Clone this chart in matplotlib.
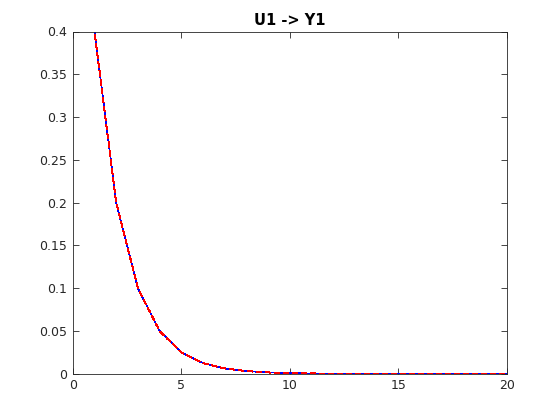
import matplotlib
matplotlib.use('Agg')
import matplotlib.pyplot as plt

# resposta ao impulso U1 -> Y1 (duas curvas sobrepostas)
k = [0, 1, 2, 3, 4, 5, 6, 7, 8, 9, 10, 11, 12, 13, 14, 15, 16, 17, 18, 19, 20]
y_blue = [0.8, 0.4, 0.2, 0.1, 0.05, 0.025, 0.0125, 0.00625, 0.003125, 0.0015625,
          0.00078125, 0.00039, 0.000195, 0.0000977, 0.0000488, 0.0000244,
          0.0000122, 0.0000061, 0.0000031, 0.0000015, 0.0000008]
y_red = list(y_blue)

xticks = [0, 5, 10, 15, 20]
yticks = [0, 0.05, 0.1, 0.15, 0.2, 0.25, 0.3, 0.35, 0.4]
ylabels = ['0', '0.05', '0.1', '0.15', '0.2', '0.25', '0.3', '0.35', '0.4']

fig = plt.figure(figsize=(5.6, 4.2), dpi=100)
ax = fig.add_axes([0.13, 0.11, 0.775, 0.815])
ax.plot(k, y_blue, color='#0000ff', lw=0.5, antialiased=False)
ax.plot(k, y_red, color='#ff0000', lw=0.5, dashes=(8, 5), antialiased=False)
ax.set_xlim(0, 20)
ax.set_ylim(0, 0.4)
ax.set_xticks(xticks)
ax.set_yticks(yticks)
ax.set_yticklabels(ylabels)
ax.tick_params(direction='in', top=True, right=True, labelsize=9, length=4, width=0.6,
               colors='#262626', labelcolor='#262626', pad=4)
for s in ax.spines.values():
    s.set_linewidth(0.6)
    s.set_color('#262626')
ax.set_title('U1 -> Y1', fontsize=10.5, fontweight='bold', pad=5)

fig.savefig('out.png', dpi=100)
